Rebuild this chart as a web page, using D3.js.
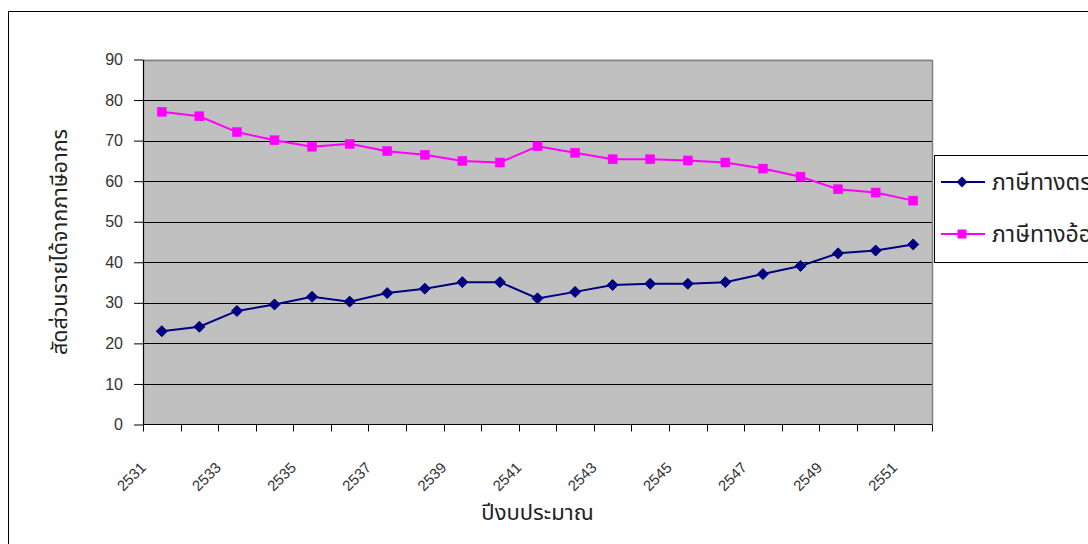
<!DOCTYPE html>
<html>
<head>
<meta charset="utf-8">
<script src="https://cdn.jsdelivr.net/npm/d3@7"></script>
<style>
  html, body { margin: 0; padding: 0; background: #ffffff; overflow: hidden; }
  svg { display: block; }
  .num { font-family: "Liberation Sans", Arial, sans-serif; fill: #333333; }
  .thai { font-family: "Noto Sans Thai", "Garuda", "Loma", "Norasi", "Tahoma", "DejaVu Sans", sans-serif; fill: #222222; }
</style>
</head>
<body>
<svg id="chart" width="1088" height="544"></svg>
<script>
// Fiscal years (Buddhist Era)
const years = ["2531","2532","2533","2534","2535","2536","2537","2538","2539","2540","2541",
               "2542","2543","2544","2545","2546","2547","2548","2549","2550","2551"];
// Share of tax revenue, percent
const directTax   = [23.0,24.1,28.0,29.6,31.5,30.3,32.4,33.5,35.1,35.1,31.1,32.7,34.4,34.7,34.7,35.1,37.1,39.1,42.2,42.9,44.4];
const indirectTax = [77.1,76.0,72.1,70.1,68.5,69.2,67.4,66.5,65.0,64.6,68.6,67.0,65.4,65.4,65.1,64.6,63.1,61.1,58.0,57.2,55.2];
const seriesNames = ["ภาษีทางตรง", "ภาษีทางอ้อม"];
const yTicks = [0,10,20,30,40,50,60,70,80,90];
const xTickLabels = ["2531","2533","2535","2537","2539","2541","2543","2545","2547","2549","2551"];
const yTitle = "สัดส่วนรายได้จากภาษีอากร";
const xTitle = "ปีงบประมาณ";

const svg = d3.select("#chart");
const plot = { left: 143, right: 932, top: 59.5, bottom: 424.5 };

const x = d3.scaleBand().domain(years).range([plot.left, plot.right]);
const y = d3.scaleLinear().domain([0, 90]).range([plot.bottom, plot.top]);

// Outer chart frame (continues past the page edge)
svg.append("rect")
  .attr("x", 8.5).attr("y", 11.5).attr("width", 1200).attr("height", 600)
  .attr("fill", "none").attr("stroke", "#000").attr("stroke-width", 1);

// Plot area
svg.append("rect")
  .attr("x", plot.left).attr("y", plot.top)
  .attr("width", plot.right - plot.left).attr("height", plot.bottom - plot.top)
  .attr("fill", "#c0c0c0");

// Horizontal gridlines
svg.append("g").selectAll("line")
  .data(yTicks.filter(v => v > 0 && v < 90))
  .join("line")
  .attr("x1", plot.left).attr("x2", plot.right)
  .attr("y1", d => Math.round(y(d)) + 0.5).attr("y2", d => Math.round(y(d)) + 0.5)
  .attr("stroke", "#000").attr("stroke-width", 1);

// Top and right border of the plot area
svg.append("path")
  .attr("d", `M${plot.left},${Math.round(plot.top) + 0.5}H${Math.round(plot.right) + 0.5}V${plot.bottom}`)
  .attr("fill", "none").attr("stroke", "#808080").attr("stroke-width", 1.5);

// Y axis
const yAxis = svg.append("g")
  .attr("transform", `translate(${plot.left},0)`)
  .call(d3.axisLeft(y).tickValues(yTicks).tickSize(9).tickSizeOuter(0).tickPadding(11));
yAxis.select(".domain").attr("stroke", "#000").attr("stroke-width", 1.2);
yAxis.selectAll(".tick line").attr("stroke", "#000");
yAxis.selectAll(".tick text").attr("class", "num").style("font-size", "16px").attr("fill", "#333");
yAxis.attr("font-family", null);

// X axis line and category boundary ticks
const xb = svg.append("g");
xb.append("line")
  .attr("x1", plot.left).attr("x2", plot.right)
  .attr("y1", plot.bottom).attr("y2", plot.bottom)
  .attr("stroke", "#000").attr("stroke-width", 1.2);
const bounds = years.map(d => x(d)).concat([x(years[years.length - 1]) + x.bandwidth()]);
xb.selectAll("line.tk").data(bounds).join("line").attr("class", "tk")
  .attr("x1", d => Math.round(d) + 0.5).attr("x2", d => Math.round(d) + 0.5)
  .attr("y1", plot.bottom).attr("y2", plot.bottom + 7)
  .attr("stroke", "#000").attr("stroke-width", 1);

// Rotated year labels (every second year)
xb.selectAll("text.yl").data(xTickLabels).join("text").attr("class", "num yl")
  .attr("transform", d => `translate(${x(d) + x.bandwidth() / 2 - 15},${plot.bottom + 44}) rotate(-45)`)
  .attr("text-anchor", "end")
  .style("font-size", "15px")
  .text(d => d);

// Series lines and markers
const line = d3.line().x((d, i) => x(years[i]) + x.bandwidth() / 2).y(d => y(d));

svg.append("path").datum(directTax)
  .attr("d", line).attr("fill", "none").attr("stroke", "#000080").attr("stroke-width", 2);
svg.append("path").datum(indirectTax)
  .attr("d", line).attr("fill", "none").attr("stroke", "#ff00ff").attr("stroke-width", 2);

const diamond = (cx, cy, r) => `M${cx},${cy - r}L${cx + r},${cy}L${cx},${cy + r}L${cx - r},${cy}Z`;

svg.append("g").selectAll("path").data(directTax).join("path")
  .attr("d", (d, i) => diamond(x(years[i]) + x.bandwidth() / 2, y(d), 5.5))
  .attr("fill", "#000080").attr("stroke", "#000080").attr("stroke-width", 1);

svg.append("g").selectAll("rect").data(indirectTax).join("rect")
  .attr("x", (d, i) => x(years[i]) + x.bandwidth() / 2 - 4.5)
  .attr("y", d => y(d) - 4.5)
  .attr("width", 9).attr("height", 9)
  .attr("fill", "#ff00ff").attr("stroke", "#ff00ff").attr("stroke-width", 0.5);

// Axis titles
svg.append("text").attr("class", "thai")
  .attr("transform", `translate(67,${(plot.top + plot.bottom) / 2}) rotate(-90)`)
  .attr("text-anchor", "middle")
  .style("font-size", "21.5px")
  .text(yTitle);

svg.append("text").attr("class", "thai")
  .attr("x", (plot.left + plot.right) / 2).attr("y", 520)
  .attr("text-anchor", "middle")
  .style("font-size", "22px")
  .text(xTitle);

// Legend (box runs past the page edge)
const lg = svg.append("g");
lg.append("rect")
  .attr("x", 934.5).attr("y", 155.5).attr("width", 300).attr("height", 107)
  .attr("fill", "#fff").attr("stroke", "#000").attr("stroke-width", 1);
const legendRows = [
  { name: seriesNames[0], color: "#000080", shape: "diamond", cy: 182 },
  { name: seriesNames[1], color: "#ff00ff", shape: "square", cy: 234 }
];
legendRows.forEach(r => {
  lg.append("line").attr("x1", 941).attr("x2", 985).attr("y1", r.cy).attr("y2", r.cy)
    .attr("stroke", r.color).attr("stroke-width", 2);
  if (r.shape === "diamond") {
    lg.append("path").attr("d", diamond(962, r.cy, 5.5)).attr("fill", r.color);
  } else {
    lg.append("rect").attr("x", 957.5).attr("y", r.cy - 4.5).attr("width", 9).attr("height", 9).attr("fill", r.color);
  }
  lg.append("text").attr("class", "thai")
    .attr("x", 992).attr("y", r.cy + 8)
    .style("font-size", "23px")
    .text(r.name);
});
</script>
</body>
</html>
